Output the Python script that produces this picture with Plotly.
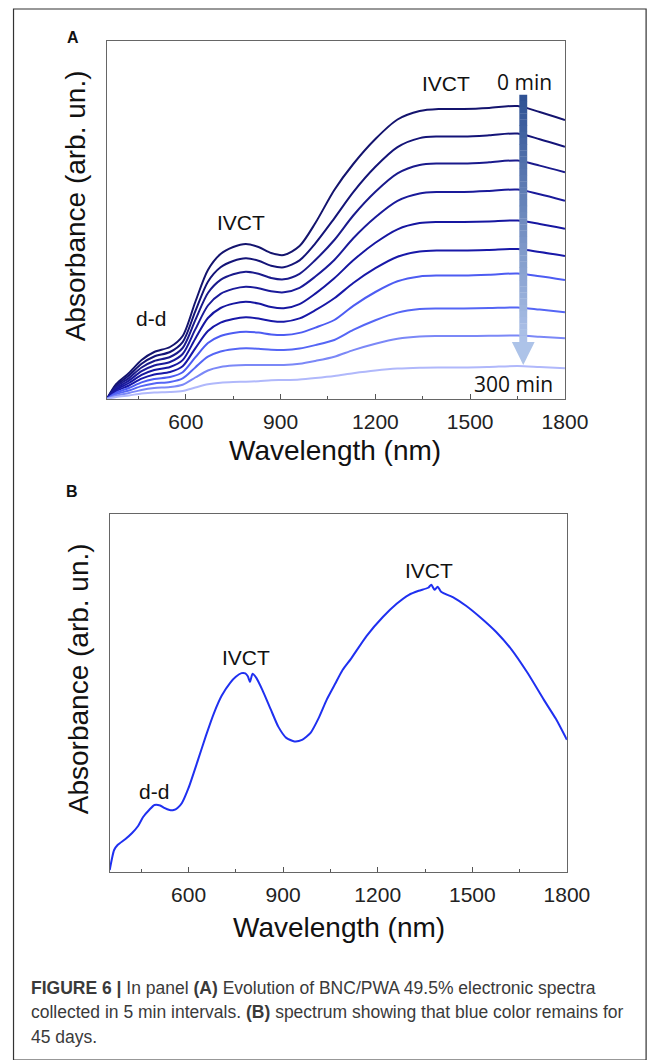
import plotly.graph_objects as go

# Panel A: wavelength grid (nm) and absorbance (arb. un.) for 10 spectra, 0 -> 300 min
wl_a = [350, 380, 420, 460, 500, 550, 590, 630, 670, 710, 750, 790, 830, 870, 910,
        960, 1010, 1070, 1130, 1200, 1270, 1340, 1400, 1480, 1560, 1650, 1720, 1800]

a01 = [0, 15, 26, 39, 47, 52, 63, 97, 129, 145, 152, 155, 152, 146, 144,
       153, 176, 209, 235, 260, 279.5, 288, 290, 290, 291, 293, 287, 279]
a02 = [0, 13.6, 23.4, 35.3, 42.5, 47, 56.9, 87.6, 117.3, 131.7, 138, 140.7, 138.3, 133.3, 131.7,
       138.6, 155.7, 180.7, 206.9, 232.2, 251.9, 260.9, 262.5, 262.5, 263.7, 265.5, 259.8, 252.3]
a03 = [0, 12.2, 20.9, 31.5, 38, 42, 51, 78.9, 106, 119.1, 124.8, 127.3, 125.2, 121.1, 119.7,
       125.2, 139, 159, 183.5, 207.2, 225.6, 234, 235.5, 235.5, 236.7, 238.5, 233.4, 226.7]
a04 = [0, 10.7, 18.4, 27.8, 33.5, 37, 45, 69.6, 93.5, 105.1, 110.1, 112.3, 110.8, 107.7, 106.7,
       111.2, 122.5, 139, 160.8, 181.8, 198.2, 205.6, 207, 207, 208, 209.5, 204.7, 198.3]
a05 = [0, 9.3, 16, 24.1, 29, 32, 38.9, 60.3, 81, 91, 95.4, 97.3, 95.5, 91.9, 90.7,
       94.9, 105.4, 120.7, 138.7, 156.2, 169.7, 175.9, 177, 177, 177.6, 178.5, 175, 170.3]
a06 = [0, 7.8, 13.5, 20.3, 24.5, 27, 32.8, 50.7, 68, 76.4, 80.1, 81.7, 80.5, 78.1, 77.3,
       80.6, 88.8, 100.7, 116, 130.8, 142.3, 147.5, 148.5, 148.5, 149.1, 150, 147, 143]
a07 = [0, 6.4, 11, 16.6, 20, 22, 26.8, 41.6, 56, 63, 66, 67.3, 66.4, 64.6, 64,
       66.1, 71.4, 79, 93.2, 107, 117.7, 122.6, 123.5, 123.5, 124.3, 125.5, 122.7, 119]
a08 = [0, 5, 8.5, 12.9, 15.5, 17, 20.6, 31.6, 42.3, 47.5, 49.7, 50.7, 50.2, 49.3, 49,
       50.4, 53.9, 59, 69.1, 78.8, 86.4, 89.9, 90.5, 90.5, 90.9, 91.5, 89.4, 86.7]
a09 = [0, 3.5, 6, 9.1, 11, 12, 14.3, 21.5, 28.5, 31.9, 33.4, 34, 34, 34, 34,
       35.2, 38.1, 42.3, 48.9, 55.3, 60.3, 62.6, 63, 63, 63.2, 63.5, 62.3, 60.7]
a10 = [0, 2.1, 3.6, 5.4, 6.5, 7, 8.1, 11.5, 14.7, 16.3, 17, 17.3, 17.8, 18.7, 19,
       19.6, 21, 23, 25.7, 28.4, 30.4, 31.3, 31.5, 31.5, 32.1, 33, 32, 30.7]

panel_a = [a01, a02, a03, a04, a05, a06, a07, a08, a09, a10]
colors_a = ["#14146e", "#141478", "#1a1a8c", "#1a1a9a", "#1616a0",
            "#1818a8", "#4d5cf2", "#5566f5", "#7b88f7", "#b0b8fb"]

# Panel B: spectrum after 45 days
wl_b = [350, 364, 375, 400, 421, 440, 456, 475, 492, 510, 523, 540, 553, 565, 579,
        600, 630, 655, 681, 705, 732, 750, 768, 780, 788, 795, 803, 815, 834, 860,
        885, 910, 936, 960, 987, 1013, 1038, 1065, 1089, 1115, 1165, 1217, 1260, 1299,
        1330, 1360, 1370, 1380, 1390, 1401, 1442, 1480, 1523, 1575, 1625, 1675, 1727,
        1765, 1800]
b_abs = [2, 22, 27, 33, 39, 46, 55, 62, 67, 66.5, 64, 62, 62, 64, 69,
         84, 112, 136, 159, 176, 189, 195, 198.7, 198.5, 195.5, 190, 198, 194, 182, 163,
         145, 134, 130.5, 132, 139, 154, 172, 188, 202, 213, 236, 255, 268, 277,
         281, 284, 287, 282, 285, 280, 274, 266, 255, 240, 222, 199, 172,
         153, 132]

W, H = 672, 1060
fig = go.Figure()

for i, ys in enumerate(panel_a):
    fig.add_trace(go.Scatter(x=wl_a, y=ys, mode="lines", xaxis="x", yaxis="y",
                             line=dict(color=colors_a[i], width=2, shape="spline", smoothing=0.8),
                             showlegend=False))

fig.add_trace(go.Scatter(x=wl_b, y=b_abs, mode="lines", xaxis="x2", yaxis="y2",
                         line=dict(color="#1f30f0", width=2, shape="spline", smoothing=0.6),
                         showlegend=False))

axis_common = dict(range=[350, 1800], tick0=600, dtick=300, ticks="inside", ticklen=5,
                   tickcolor="#555", showline=True, linecolor="#666", linewidth=1.2,
                   mirror=True, showgrid=False, zeroline=False,
                   tickfont=dict(family="Liberation Sans, Arial", size=21, color="#222"),
                   ticklabelstandoff=4,
                   minor=dict(ticks="inside", dtick=150, ticklen=3, tickcolor="#555"))
yaxis_common = dict(range=[0, 358], showticklabels=False, ticks="", showline=True,
                    linecolor="#666", linewidth=1.2, mirror=True, showgrid=False,
                    zeroline=False)

fig.update_layout(
    width=W, height=H, autosize=False, margin=dict(l=0, r=0, t=0, b=0),
    paper_bgcolor="white", plot_bgcolor="white",
    xaxis=dict(domain=[110.6 / W, 585 / W], anchor="y", **axis_common),
    yaxis=dict(domain=[1 - 399 / H, 1 - 41 / H], anchor="x", **yaxis_common),
    xaxis2=dict(domain=[113.6 / W, 587 / W], anchor="y2", **axis_common),
    yaxis2=dict(domain=[1 - 872 / H, 1 - 513.7 / H], anchor="x2", **yaxis_common),
)

# gradient arrow in panel A (0 min -> 300 min)
def mix(c1, c2, t):
    a = [int(c1[k:k + 2], 16) for k in (1, 3, 5)]
    b = [int(c2[k:k + 2], 16) for k in (1, 3, 5)]
    return "#" + "".join(f"{round(a[j] + (b[j] - a[j]) * t):02x}" for j in range(3))

shapes = []
ax_x, half_w, head_w = 1668, 12.5, 36
top_h, base_h, tip_h = 304, 57, 34
n = 40
for k in range(n):
    y0 = top_h - (top_h - base_h) * k / n
    y1 = top_h - (top_h - base_h) * (k + 1) / n
    shapes.append(dict(type="rect", xref="x", yref="y", x0=ax_x - half_w, x1=ax_x + half_w,
                       y0=y1, y1=y0 + 0.3, line=dict(width=0),
                       fillcolor=mix("#2f5294", "#adc2e8", k / (n - 1))))
shapes.append(dict(type="path", xref="x", yref="y",
                   path=f"M {ax_x - head_w} {base_h} L {ax_x + head_w} {base_h} L {ax_x} {tip_h} Z",
                   fillcolor="#adc3e8", line=dict(width=0)))
# outer figure frame
shapes.append(dict(type="rect", xref="paper", yref="paper", x0=14 / W, x1=669 / W,
                   y0=0, y1=1 - 9 / H, line=dict(color="#333", width=1.2)))
fig.update_layout(shapes=shapes)

lab = dict(family="Liberation Sans, Arial", color="#111")
ann = []
def txt(x, y, s, size, ref="paper", font=None, **kw):
    f = dict(lab if font is None else font)
    f["size"] = size
    kw.setdefault("xanchor", "center")
    kw.setdefault("yanchor", "middle")
    if ref == "paper":
        ann.append(dict(x=x / W, y=1 - y / H, xref="paper", yref="paper", text=s,
                        showarrow=False, font=f, **kw))
    else:
        ann.append(dict(x=x, y=y, xref=ref[0], yref=ref[1], text=s,
                        showarrow=False, font=f, **kw))

txt(76, 37, "<b>A</b>", 16)
txt(75, 491, "<b>B</b>", 16)
txt(78, 206, "Absorbance (arb. un.)", 28, textangle=-90)
txt(81, 679, "Absorbance (arb. un.)", 28, textangle=-90)
txt(347, 450, "Wavelength (nm)", 28)
txt(351, 927, "Wavelength (nm)", 28)

# peak labels
txt(156, 318, "d-d", 21)
txt(249.5, 222.7, "IVCT", 21)
txt(462, 84, "IVCT", 21)
open_sans = dict(family="Open Sans, DejaVu Sans", color="#111")
txt(543, 82, "0 min", 21, font=open_sans)
txt(532, 384, "300 min", 21, font=open_sans)

txt(159, 792, "d-d", 21)
txt(255, 657, "IVCT", 21)
txt(444, 570, "IVCT", 21)

# caption
cap = dict(family="Liberation Sans, Arial", color="#3a3a3a")
txt(30, 988, "<b>FIGURE 6 |</b> In panel <b>(A)</b> Evolution of BNC/PWA 49.5% electronic spectra",
    17.5, font=cap, xanchor="left")
txt(30, 1012, "collected in 5 min intervals. <b>(B)</b> spectrum showing that blue color remains for",
    17.5, font=cap, xanchor="left")
txt(30, 1037, "45 days.", 17.5, font=cap, xanchor="left")

fig.update_layout(annotations=ann)

page_fix = """
document.documentElement.style.margin='0';
document.documentElement.style.overflow='hidden';
document.body.style.margin='0';
document.body.style.overflow='hidden';
"""
fig.write_html("out.html", config={"responsive": False, "displayModeBar": False},
               post_script=page_fix)
